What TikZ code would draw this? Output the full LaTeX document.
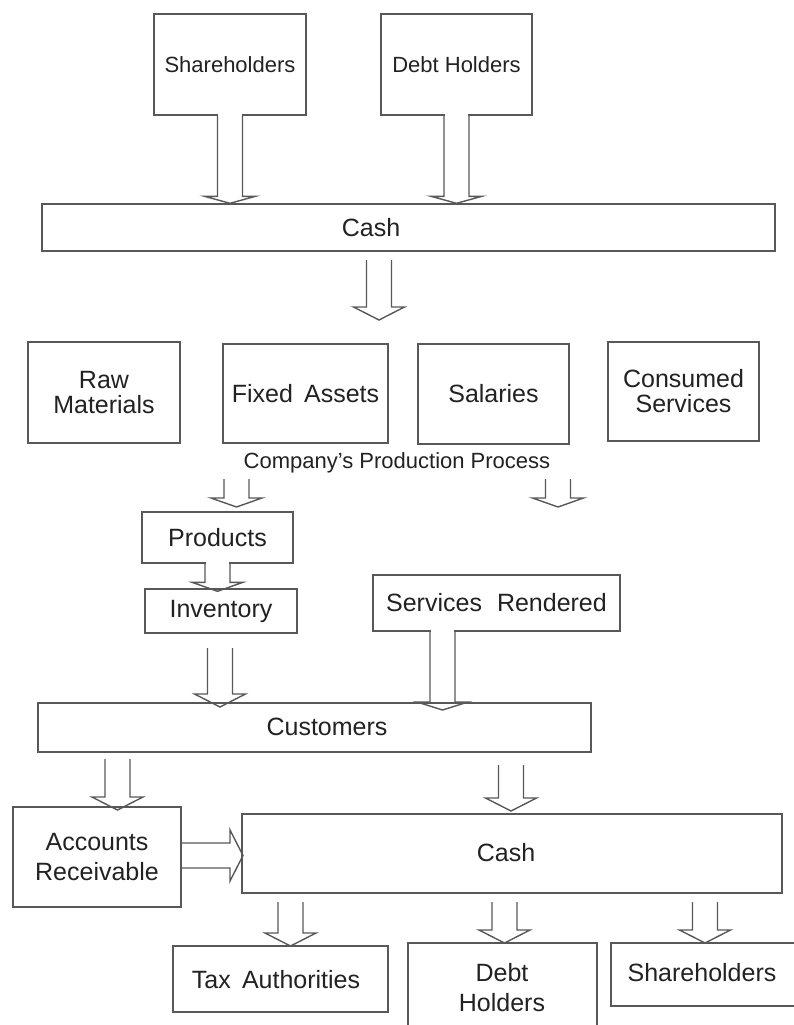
\documentclass[tikz,border=0pt]{standalone}
\usepackage{fontspec}
\setmainfont{Liberation Sans}
\usetikzlibrary{calc}

\definecolor{edge}{HTML}{585858}
\definecolor{ink}{HTML}{222222}

\tikzset{
  box/.style={draw=edge, line width=1.4pt, fill=white, inner sep=0pt,
              text=ink, align=center, font=\fontsize{25}{25}\selectfont},
  topbox/.style={box, font=\fontsize{22}{24}\selectfont},
  lbl/.style={text=ink, inner sep=0pt, align=center, font=\fontsize{25}{30}\selectfont},
  flow/.style={draw=edge, line width=1.4pt, line join=miter},
}

% hollow block arrow pointing down: #1 stem start, #2 tip, #3 head length
\newcommand{\hollowdown}[3]{%
  \fill[white] let \p1=(#1), \p2=(#2) in
    (\x2-11.6pt,\y1+1.6pt) rectangle (\x2+11.6pt,\y1-0.5pt);
  \draw[flow] let \p1=(#1), \p2=(#2) in
    (\x2-12.5pt,\y1) -- (\x2-12.5pt,\y2+#3) -- (\x2-25.5pt,\y2+#3) -- (\x2,\y2)
    -- (\x2+25.5pt,\y2+#3) -- (\x2+12.5pt,\y2+#3) -- (\x2+12.5pt,\y1);
}
% hollow block arrow pointing right
\newcommand{\hollowright}[3]{%
  \draw[flow] let \p1=(#1), \p2=(#2) in
    (\x1,\y2+12.5pt) -- (\x2-#3,\y2+12.5pt) -- (\x2-#3,\y2+25.5pt) -- (\x2,\y2)
    -- (\x2-#3,\y2-25.5pt) -- (\x2-#3,\y2-12.5pt) -- (\x1,\y2-12.5pt);
}

\begin{document}
\begin{tikzpicture}[x=1pt,y=-1pt]
\clip (0,0) rectangle (794,1025);
\fill[white] (0,0) rectangle (794,1025);

% sources of funds
\node[topbox, minimum width=152pt, minimum height=101pt] (shIn) at (230,64.5) {Shareholders};
\node[topbox, minimum width=151pt, minimum height=101pt] (dhIn) at (456.5,64.5) {Debt Holders};

% cash raised
\node[box, minimum width=733pt, minimum height=47pt] (cashA) at (408.5,227.5) {};
\node[lbl] (cashAtxt) at (371,227.5) {Cash};

% uses of cash
\node[box, minimum width=152pt, minimum height=101pt] (raw) at (104,392.5) {Raw\\Materials};
\node[box, minimum width=165pt, minimum height=99pt] (fixed) at (305.5,393.5) {Fixed\hspace{0.45em}Assets};
\node[box, minimum width=151pt, minimum height=100pt] (sal) at (493.5,394) {Salaries};
\node[box, minimum width=151pt, minimum height=99pt] (cons) at (683.5,391.5) {Consumed\\Services};

\node[lbl, font=\fontsize{22}{24}\selectfont] (proc) at (397,463) {Company's Production Process};

% output of production
\node[box, minimum width=151pt, minimum height=51pt] (prod) at (217.5,537.5) {Products};
\node[box, minimum width=152pt, minimum height=44pt] (inv) at (221,611) {Inventory};
\node[box, minimum width=247pt, minimum height=56pt] (serv) at (496.5,603) {Services\hspace{0.6em}Rendered};

% sales
\node[box, minimum width=553pt, minimum height=49pt] (cust) at (314.5,727.5) {};
\node[lbl] (custtxt) at (327,727) {Customers};

\node[box, minimum width=168pt, minimum height=100pt, font=\fontsize{25}{30}\selectfont] (ar) at (97,857) {Accounts\\Receivable};
\node[box, minimum width=540pt, minimum height=79pt] (cashB) at (512,853.5) {};
\node[lbl] (cashBtxt) at (506,853) {Cash};

% distribution of cash
\node[box, minimum width=215pt, minimum height=66pt] (tax) at (280.5,979) {};
\node[lbl] (taxtxt) at (276,980) {Tax\hspace{0.45em}Authorities};
\node[box, minimum width=189pt, minimum height=97pt] (dhOut) at (502.5,991.5) {};
\node[lbl] (dhOuttxt) at (502,988) {Debt\\Holders};
\node[box, minimum width=219pt, minimum height=63pt] (shOut) at (720.5,974.5) {};
\node[lbl] (shOuttxt) at (702,973) {Shareholders};

% arrow end points
\coordinate (cashAout) at (379,260);
\coordinate (cashAtip) at (379,320);
\coordinate (procL) at (236.5,479);
\coordinate (procLtip) at (236.5,507);
\coordinate (procR) at (558,479);
\coordinate (procRtip) at (558,507);
\coordinate (invtip) at ($(prod.south |- inv.north)+(0,3)$);
\coordinate (invout) at (220,648);
\coordinate (invtipC) at (220,707);
\coordinate (servout) at (442.5,631);
\coordinate (servtip) at (442.5,710);
\coordinate (custL) at (117.5,759);
\coordinate (custLtip) at (117.5,810);
\coordinate (custR) at (511,765);
\coordinate (custRtip) at (511,811);
\coordinate (arout) at (181,855.5);
\coordinate (artip) at (243,855.5);
\coordinate (cashBtax) at (290.5,902);
\coordinate (taxtip) at (290.5,946);
\coordinate (cashBdh) at (504.5,902);
\coordinate (dhtip) at (504.5,943);
\coordinate (cashBsh) at (705,902);
\coordinate (shtip) at (705,943);

% connectors
\hollowdown{shIn.south}{shIn.south |- cashA.north}{7pt}
\hollowdown{dhIn.south}{dhIn.south |- cashA.north}{7pt}
\hollowdown{cashAout}{cashAtip}{13pt}
\hollowdown{procL}{procLtip}{9pt}
\hollowdown{procR}{procRtip}{9pt}
\hollowdown{prod.south}{invtip}{9pt}
\hollowdown{invout}{invtipC}{13pt}
\hollowdown{servout}{servtip}{8pt}
\hollowdown{custL}{custLtip}{13pt}
\hollowdown{custR}{custRtip}{13pt}
\hollowright{arout}{artip}{13pt}
\hollowdown{cashBtax}{taxtip}{13pt}
\hollowdown{cashBdh}{dhtip}{13pt}
\hollowdown{cashBsh}{shtip}{13pt}
\end{tikzpicture}
\end{document}
